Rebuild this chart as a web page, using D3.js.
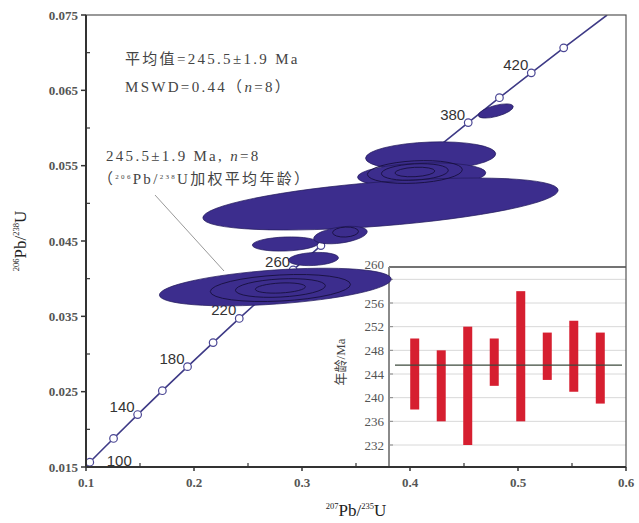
<!DOCTYPE html>
<html>
<head>
<meta charset="utf-8">
<script src="https://cdn.jsdelivr.net/npm/d3@7"></script>
<style>
  body { margin: 0; background: #fff; }
  svg text { font-family: "Liberation Serif", "Times New Roman", "Noto Sans CJK SC", serif; }
</style>
</head>
<body>
<script>
// concordia marker ages (Ma) and their ratios
const concAges = [100, 120, 140, 160, 180, 200, 220, 240, 260, 280, 300, 320, 340, 360, 380, 400, 420, 440]
const concX = [0.1035, 0.1255, 0.1478, 0.1707, 0.1940, 0.2177, 0.2419, 0.2666, 0.2918, 0.3175, 0.3437, 0.3705, 0.3977, 0.4255, 0.4539, 0.4828, 0.5123, 0.5423]
const concY = [0.01563, 0.01879, 0.02196, 0.02513, 0.02832, 0.03151, 0.03472, 0.03793, 0.04116, 0.04439, 0.04764, 0.05089, 0.05416, 0.05743, 0.06072, 0.06402, 0.06732, 0.07064]
const labelAges = [100, 140, 180, 220, 260, 380, 420]
// ends of the concordia line at the frame
const concStart = [0.1, 0.0151]
const concEnd = [0.5825, 0.075]

// analysis ellipses: centre, half axes, tilt
const ellX = [0.4191, 0.4108, 0.3727, 0.2846, 0.3356, 0.3106, 0.2753, 0.4794]
const ellY = [0.05628, 0.05376, 0.04991, 0.04460, 0.04579, 0.04261, 0.03889, 0.06226]
const ellSx = [0.0603, 0.0594, 0.165, 0.0306, 0.025, 0.0232, 0.1076, 0.0167]
const ellSy = [0.00186, 0.00159, 0.00292, 0.00093, 0.00106, 0.00086, 0.00226, 0.00073]
const ellRot = [-2, -2, -4.5, -2, -8, -3, -4, -15]

// inner contour rings
const ringX = [0.4045, 0.4045, 0.4045, 0.28, 0.28, 0.28, 0.3403]
const ringY = [0.05416, 0.05416, 0.05416, 0.03876, 0.03876, 0.03876, 0.04619]
const ringSx = [0.0185, 0.031, 0.044, 0.0232, 0.0417, 0.065, 0.012]
const ringSy = [0.00062, 0.00108, 0.00148, 0.00066, 0.0012, 0.00173, 0.00066]

const xTicks = [0.1, 0.2, 0.3, 0.4, 0.5, 0.6]
const xMinor = [0.15, 0.25, 0.35, 0.45, 0.55]
const yTicks = [0.015, 0.025, 0.035, 0.045, 0.055, 0.065, 0.075]
const yMinor = [0.02, 0.03, 0.04, 0.05, 0.06, 0.07]

// inset: 206Pb/238U ages per grain
const grains = ['1', '2', '3', '4', '5', '6', '7', '8']
const ageLow = [238, 236, 232, 242, 236, 243, 241, 239]
const ageHigh = [250, 248, 252, 250, 258, 251, 253, 251]
const meanAge = 245.5
const insetTicks = [232, 236, 240, 244, 248, 252, 256, 260]

const w = 639
const h = 523
const pLeft = 86, pRight = 626, pTop = 15, pBottom = 467

const svg = d3.select('body').append('svg')
  .attr('width', w)
  .attr('height', h)

const x = d3.scaleLinear().domain([0.1, 0.6]).range([pLeft, pRight])
const y = d3.scaleLinear().domain([0.015, 0.075]).range([pBottom, pTop])

svg.append('clipPath').attr('id', 'plot')
  .append('rect')
  .attr('x', pLeft).attr('y', pTop)
  .attr('width', pRight - pLeft).attr('height', pBottom - pTop)

// ---------- inset (drawn first, ellipses run over its corner) ----------
const ix0 = 389, ix1 = 626, iy0 = 267
const iy = d3.scaleLinear().domain([232, 256]).range([445, 303])
const ix = d3.scalePoint().domain(grains).range([ix0, ix1]).padding(0.97)

const inset = svg.append('g')

inset.selectAll('.grid')
  .data(insetTicks)
  .enter()
  .append('line')
  .attr('x1', ix0).attr('x2', ix1)
  .attr('y1', d => iy(d)).attr('y2', d => iy(d))
  .attr('stroke', '#d8d8d8')
  .attr('stroke-width', 1)

inset.selectAll('.itick')
  .data(insetTicks)
  .enter()
  .append('line')
  .attr('x1', ix0).attr('x2', ix0 + 4)
  .attr('y1', d => iy(d)).attr('y2', d => iy(d))
  .attr('stroke', '#888')

inset.selectAll('.ilabel')
  .data(insetTicks)
  .enter()
  .append('text')
  .attr('x', ix0 - 5)
  // the top label sits at the frame edge in the original
  .attr('y', d => d === 260 ? iy0 - 3 : iy(d))
  .attr('dy', '0.35em')
  .attr('text-anchor', 'end')
  .attr('font-size', 13)
  .attr('fill', '#555')
  .text(d => d)

inset.selectAll('.bar')
  .data(grains)
  .enter()
  .append('rect')
  .attr('x', d => ix(d) - 4.5)
  .attr('width', 9)
  .attr('y', (d, i) => iy(ageHigh[i]))
  .attr('height', (d, i) => iy(ageLow[i]) - iy(ageHigh[i]))
  .attr('fill', '#d61f30')

inset.append('line')
  .attr('x1', ix0 + 6).attr('x2', ix1 - 4)
  .attr('y1', iy(meanAge)).attr('y2', iy(meanAge))
  .attr('stroke', '#3c4a3c')
  .attr('stroke-width', 1.2)

inset.append('line')
  .attr('x1', ix0).attr('x2', ix1)
  .attr('y1', iy0).attr('y2', iy0)
  .attr('stroke', '#444')
  .attr('stroke-width', 1.5)

inset.append('line')
  .attr('x1', ix0).attr('x2', ix0)
  .attr('y1', iy0).attr('y2', pBottom)
  .attr('stroke', '#8a8a8a')
  .attr('stroke-width', 2)

inset.append('text')
  .attr('transform', 'translate(345,362)rotate(-90)')
  .attr('text-anchor', 'middle')
  .attr('font-size', 13)
  .attr('fill', '#444')
  .text('年龄/Ma')

// ---------- concordia ----------
const conc = svg.append('g').attr('clip-path', 'url(#plot)')

const linePts = [concStart].concat(concX.map((d, i) => [d, concY[i]]), [concEnd])
conc.append('path')
  .datum(linePts)
  .attr('d', d3.line().x(d => x(d[0])).y(d => y(d[1])).curve(d3.curveCatmullRom))
  .attr('fill', 'none')
  .attr('stroke', '#3e3a86')
  .attr('stroke-width', 1.6)

conc.selectAll('.marker')
  .data(concAges)
  .enter()
  .append('circle')
  .attr('cx', (d, i) => x(concX[i]))
  .attr('cy', (d, i) => y(concY[i]))
  .attr('r', 3.8)
  .attr('fill', '#fff')
  .attr('stroke', '#4a4694')
  .attr('stroke-width', 1.2)

svg.selectAll('.agelabel')
  .data(labelAges)
  .enter()
  .append('text')
  .attr('x', d => {
    const i = concAges.indexOf(d)
    return d === 100 ? x(concX[i]) + 17 : x(concX[i]) - 3
  })
  .attr('y', d => {
    const i = concAges.indexOf(d)
    return d === 100 ? y(concY[i]) + 4 : y(concY[i]) - 3
  })
  .attr('text-anchor', d => d === 100 ? 'start' : 'end')
  .style('font-family', '"Liberation Sans", Arial, sans-serif')
  .attr('font-size', 15)
  .attr('fill', '#333')
  .text(d => d)

// leader line to the label
svg.append('line')
  .attr('x1', 155).attr('y1', 195)
  .attr('x2', 224).attr('y2', 271)
  .attr('stroke', '#999')
  .attr('stroke-width', 1)

// ---------- ellipses ----------
const ells = svg.append('g').attr('clip-path', 'url(#plot)')

ells.selectAll('.ell')
  .data(ellX)
  .enter()
  .append('ellipse')
  .attr('cx', d => x(d))
  .attr('cy', (d, i) => y(ellY[i]))
  .attr('rx', (d, i) => x(d + ellSx[i]) - x(d))
  .attr('ry', (d, i) => y(ellY[i]) - y(ellY[i] + ellSy[i]))
  .attr('transform', (d, i) => `rotate(${ellRot[i]},${x(d)},${y(ellY[i])})`)
  .attr('fill', '#3c2d8d')
  .attr('stroke', '#221a5c')
  .attr('stroke-width', 0.7)

ells.selectAll('.ring')
  .data(ringX)
  .enter()
  .append('ellipse')
  .attr('cx', d => x(d))
  .attr('cy', (d, i) => y(ringY[i]))
  .attr('rx', (d, i) => x(d + ringSx[i]) - x(d))
  .attr('ry', (d, i) => y(ringY[i]) - y(ringY[i] + ringSy[i]))
  .attr('transform', (d, i) => `rotate(-3,${x(d)},${y(ringY[i])})`)
  .attr('fill', 'none')
  .attr('stroke', '#181040')
  .attr('stroke-width', 0.9)

// ---------- frame and axes ----------
svg.append('rect')
  .attr('x', pLeft).attr('y', pTop)
  .attr('width', pRight - pLeft).attr('height', pBottom - pTop)
  .attr('fill', 'none')
  .attr('stroke', '#555')
  .attr('stroke-width', 1.2)

svg.append('line')
  .attr('x1', pLeft).attr('x2', pLeft)
  .attr('y1', pTop).attr('y2', pBottom)
  .attr('stroke', '#333').attr('stroke-width', 2)

svg.append('line')
  .attr('x1', pLeft).attr('x2', pRight)
  .attr('y1', pBottom).attr('y2', pBottom)
  .attr('stroke', '#333').attr('stroke-width', 2)

svg.selectAll('.ytick')
  .data(yTicks)
  .enter()
  .append('line')
  .attr('x1', pLeft - 5).attr('x2', pLeft)
  .attr('y1', d => y(d)).attr('y2', d => y(d))
  .attr('stroke', '#333').attr('stroke-width', 1.5)

svg.selectAll('.yminor')
  .data(yMinor)
  .enter()
  .append('line')
  .attr('x1', pLeft).attr('x2', pLeft + 4)
  .attr('y1', d => y(d)).attr('y2', d => y(d))
  .attr('stroke', '#333').attr('stroke-width', 1.2)

svg.selectAll('.ylabel')
  .data(yTicks)
  .enter()
  .append('text')
  .attr('x', pLeft - 8)
  .attr('y', d => y(d))
  .attr('dy', '0.35em')
  .attr('text-anchor', 'end')
  .attr('font-size', 13)
  .attr('font-weight', 'bold')
  .attr('fill', '#555')
  .text(d => d3.format('.3f')(d))

svg.selectAll('.xtick')
  .data(xTicks)
  .enter()
  .append('line')
  .attr('x1', d => x(d)).attr('x2', d => x(d))
  .attr('y1', pBottom).attr('y2', pBottom + 4)
  .attr('stroke', '#333').attr('stroke-width', 1.5)

svg.selectAll('.xminor')
  .data(xMinor)
  .enter()
  .append('line')
  .attr('x1', d => x(d)).attr('x2', d => x(d))
  .attr('y1', pBottom - 4).attr('y2', pBottom)
  .attr('stroke', '#333').attr('stroke-width', 1.2)

svg.selectAll('.xlabel')
  .data(xTicks)
  .enter()
  .append('text')
  .attr('x', d => x(d))
  .attr('y', pBottom + 20)
  .attr('text-anchor', 'middle')
  .attr('font-size', 13)
  .attr('font-weight', 'bold')
  .attr('fill', '#555')
  .text(d => d3.format('.1f')(d))

// axis titles with superscript mass numbers
const ratioTitle = (sel, a, b, big) => {
  sel.append('tspan').attr('font-size', big * 0.5).attr('dy', -big * 0.4).text(a)
  sel.append('tspan').attr('font-size', big).attr('dy', big * 0.4).text('Pb/')
  sel.append('tspan').attr('font-size', big * 0.5).attr('dy', -big * 0.4).text(b)
  sel.append('tspan').attr('font-size', big).attr('dy', big * 0.4).text('U')
}

svg.append('text')
  .attr('x', (pLeft + pRight) / 2)
  .attr('y', 516)
  .attr('text-anchor', 'middle')
  .attr('fill', '#222')
  .call(ratioTitle, '207', '235', 17)

svg.append('text')
  .attr('transform', `translate(26,${(pTop + pBottom) / 2})rotate(-90)`)
  .attr('text-anchor', 'middle')
  .attr('fill', '#222')
  .call(ratioTitle, '206', '238', 17)

// ---------- annotations ----------
const note = (tx, ty) => svg.append('text')
  .attr('x', tx).attr('y', ty)
  .attr('font-size', 15)
  .attr('fill', '#444')
  .style('letter-spacing', '2.3px')

note(125, 64).text('平均值=245.5±1.9 Ma')

const mswd = note(125, 92)
mswd.append('tspan').text('MSWD=0.44（')
mswd.append('tspan').attr('font-style', 'italic').text('n')
mswd.append('tspan').text('=8）')

const wm = note(106, 161)
wm.append('tspan').text('245.5±1.9 Ma, ')
wm.append('tspan').attr('font-style', 'italic').text('n')
wm.append('tspan').text('=8')

const wm2 = note(98, 184)
wm2.append('tspan').text('（')
wm2.append('tspan').attr('font-size', 7).attr('dy', -5).text('206')
wm2.append('tspan').attr('dy', 5).text('Pb/')
wm2.append('tspan').attr('font-size', 7).attr('dy', -5).text('238')
wm2.append('tspan').attr('dy', 5).text('U加权平均年龄）')
</script>
</body>
</html>
